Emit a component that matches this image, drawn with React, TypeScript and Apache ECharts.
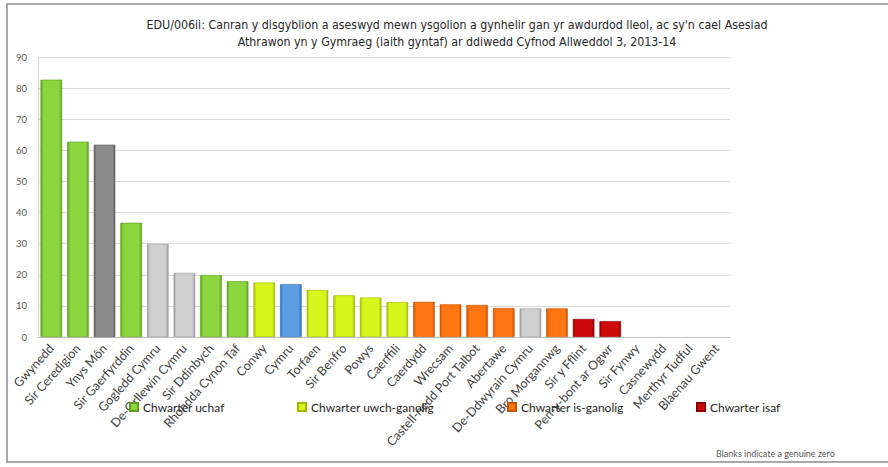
import React, { useEffect, useRef } from "react";
import * as echarts from "echarts";

const titleLines = [
  "EDU/006ii: Canran y disgyblion a aseswyd mewn ysgolion a gynhelir gan yr awdurdod lleol, ac sy'n cael Asesiad",
  "Athrawon yn y Gymraeg (iaith gyntaf) ar ddiwedd Cyfnod Allweddol 3, 2013-14",
];

const categories = [
  "Gwynedd", "Sir Ceredigion", "Ynys Môn", "Sir Gaerfyrddin", "Gogledd Cymru",
  "De-Orllewin Cymru", "Sir Ddinbych", "Rhondda Cynon Taf", "Conwy", "Cymru",
  "Torfaen", "Sir Benfro", "Powys", "Caerffili", "Caerdydd", "Wrecsam",
  "Castell-nedd Port Talbot", "Abertawe", "De-Ddwyrain Cymru", "Bro Morgannwg",
  "Sir y Fflint", "Pen-y-bont ar Ogwr", "Sir Fynwy", "Casnewydd", "Merthyr Tudful",
  "Blaenau Gwent",
];

const values = [
  82.7, 62.8, 61.8, 36.7, 29.9, 20.6, 19.9, 17.9, 17.5, 17.0,
  15.1, 13.4, 12.7, 11.2, 11.3, 10.5, 10.3, 9.3, 9.2, 9.2,
  5.8, 5.1, 0, 0, 0, 0,
];

const groups = [
  "q1", "q1", "anglesey", "q1", "region", "region", "q1", "q1", "q2", "wales",
  "q2", "q2", "q2", "q2", "q3", "q3", "q3", "q3", "region", "q3",
  "q4", "q4", "q4", "q4", "q4", "q4",
];

const quartileKeys = ["q1", "q2", "q3", "q4"];
const quartileNames = ["Chwarter uchaf", "Chwarter uwch-ganolig", "Chwarter is-ganolig", "Chwarter isaf"];

const palette: Record<string, [string, string]> = {
  q1: ["#8ad63c", "#5c9e1e"],
  q2: ["#d8f51c", "#a3b800"],
  q3: ["#ff7612", "#c95200"],
  q4: ["#cc0a0a", "#8e0000"],
  anglesey: ["#8a8a8a", "#5e5e5e"],
  region: ["#cfcfcf", "#9a9a9a"],
  wales: ["#5c9de2", "#2f6fb5"],
};

const grad = (key: string) => {
  const [base, dark] = palette[key];
  return new echarts.graphic.LinearGradient(0, 0, 1, 0, [
    { offset: 0, color: dark },
    { offset: 0.12, color: base },
    { offset: 0.88, color: base },
    { offset: 1, color: dark },
  ]);
};

const legendLefts = [129, 297, 507, 696];

export default function App() {
  const ref = useRef<HTMLDivElement>(null);
  useEffect(() => {
    if (!ref.current) return;
    const chart = echarts.init(ref.current, undefined, { renderer: "svg" });
    const calibri = "Lato, 'Open Sans', sans-serif";

    const quartileSeries = quartileKeys.map((k, qi) => ({
      name: quartileNames[qi],
      type: "bar",
      stack: "all",
      barCategoryGap: "19%",
      itemStyle: { color: grad(k), borderColor: palette[k][1], borderWidth: 0.6 },
      data: values.map((v, i) => (groups[i] === k && v > 0 ? v : "-")),
    }));

    const otherSeries = {
      name: "Other",
      type: "bar",
      stack: "all",
      barCategoryGap: "19%",
      data: values.map((v, i) =>
        quartileKeys.includes(groups[i])
          ? "-"
          : {
              value: v,
              itemStyle: { color: grad(groups[i]), borderColor: palette[groups[i]][1], borderWidth: 0.6 },
            }
      ),
    };

    chart.setOption({
      animation: false,
      backgroundColor: "#ffffff",
      title: {
        text: titleLines.join("\n"),
        left: 452,
        top: 11,
        textAlign: "center",
        textStyle: {
          fontFamily: "'Liberation Sans Narrow', 'DejaVu Sans Condensed', Arial, sans-serif",
          fontSize: 12.3,
          fontWeight: "normal",
          color: "#262626",
          lineHeight: 17,
        },
      },
      legend: quartileNames.map((n, qi) => ({
        data: [{ name: n, itemStyle: { color: palette[quartileKeys[qi]][0] } }],
        left: legendLefts[qi],
        top: 401,
        icon: "rect",
        itemWidth: 8,
        itemHeight: 8,
        itemGap: 4,
        padding: 0,
        textStyle: { fontFamily: calibri, fontSize: 12, color: "#262626" },
        selectedMode: false,
      })),
      grid: { left: 38, right: 158, top: 57, bottom: 130, containLabel: false },
      xAxis: {
        type: "category",
        data: categories,
        axisLine: { lineStyle: { color: "#bfbfbf" } },
        axisTick: { show: false },
        axisLabel: {
          interval: 0,
          rotate: 48,
          margin: 9,
          fontFamily: calibri,
          fontSize: 12.5,
          color: "#404040",
        },
      },
      yAxis: {
        type: "value",
        min: 0,
        max: 90,
        interval: 10,
        axisLine: { show: true, lineStyle: { color: "#d9d9d9" } },
        axisTick: { show: false },
        splitLine: { lineStyle: { color: "#d9d9d9" } },
        axisLabel: { fontFamily: calibri, fontSize: 9.5, color: "#595959", margin: 11 },
      },
      graphic: [
        {
          type: "rect",
          shape: { x: 7, y: 4, width: 900, height: 458 },
          style: { fill: "none", stroke: "#8c8c8c", lineWidth: 1.5 },
          silent: true,
        },
        {
          type: "text",
          x: 716,
          y: 449,
          style: {
            text: "Blanks indicate a genuine zero",
            fontFamily: calibri,
            fontSize: 9,
            fill: "#595959",
          },
        },
      ],
      series: [...quartileSeries, otherSeries],
    });
    return () => chart.dispose();
  }, []);
  return <div ref={ref} style={{ position: "fixed", left: 0, top: 0, width: 888, height: 467 }} />;
}
